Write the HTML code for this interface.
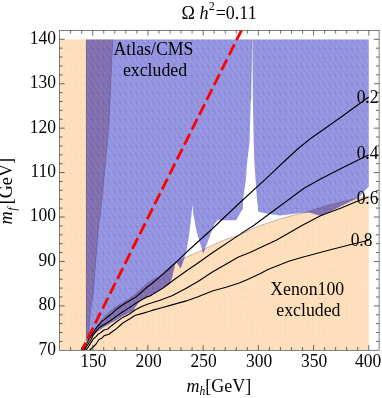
<!DOCTYPE html>
<html><head><meta charset="utf-8"><title>plot</title>
<style>
html,body{margin:0;padding:0;background:#fff;}
svg{display:block;font-family:"Liberation Serif",serif;}
</style></head><body>
<svg width="382" height="398" viewBox="0 0 382 398">
<rect width="382" height="398" fill="#fff"/>
<defs>
<pattern id="mo" patternUnits="userSpaceOnUse" x="58.768" y="350.300" width="5.5220" height="8.8860">
<path d="M0,0H5.5220M0,0V8.8860M0,0L5.5220,8.8860" stroke="#F0B070" stroke-opacity="0.22" stroke-width="0.6" fill="none"/>
</pattern>
<pattern id="mb" patternUnits="userSpaceOnUse" x="58.768" y="350.300" width="5.5220" height="8.8860">
<path d="M0,0H5.5220M0,0V8.8860M0,0L5.5220,8.8860" stroke="#3030C0" stroke-opacity="0.26" stroke-width="0.6" fill="none"/>
</pattern>
<clipPath id="cf"><rect x="59.4" y="30.4" width="319.70000000000005" height="319.90000000000003"/></clipPath>
<clipPath id="cb"><polygon points="86.3,39.5 251.7,39.5 250.8,100.0 249.5,142.0 247.0,163.0 245.8,180.0 243.4,197.0 242.7,209.0 236.0,220.2 217.6,220.2 214.3,224.3 203.2,253.6 196.7,231.9 193.5,215.1 192.4,205.0 190.8,221.0 188.9,236.0 187.7,243.5 186.2,252.3 184.3,258.5 180.7,268.5 176.8,262.8 175.2,264.5 173.8,270.0 172.0,278.0 169.0,284.5 162.5,289.0 156.3,292.8 150.0,296.2 141.7,299.8 137.9,303.5 134.8,307.9 133.5,310.4 129.1,313.0 122.8,316.1 116.6,319.9 110.3,323.5 104.0,327.0 100.6,329.6 97.0,331.8 94.3,334.1 91.0,337.5 88.0,341.0 86.3,341.0"/><polygon points="252.4,39.5 368.7,39.5 368.7,186.5 358.6,197.5 354.5,199.6 321.1,216.0 309.0,212.4 304.0,212.7 290.3,214.3 280.2,215.5 266.8,213.5 258.4,211.8 256.8,197.0 255.6,180.0 254.4,163.0 253.7,142.0 252.9,100.0"/></clipPath>
</defs>
<polygon points="59.8,39.5 112.8,39.5 109.0,123.0 106.0,158.0 100.2,216.0 99.0,222.6 97.2,242.7 95.2,267.8 93.4,293.0 91.0,306.7 89.4,323.5 88.6,333.5 87.5,337.0 90.0,334.5 93.0,331.5 95.5,328.5 98.3,324.8 101.0,321.0 104.0,317.0 110.3,311.2 116.6,306.3 122.8,302.5 129.1,298.9 134.2,295.0 140.0,290.0 147.5,283.0 153.8,279.2 158.8,276.8 165.1,271.0 175.5,262.5 186.5,257.0 196.0,253.0 206.8,247.8 223.5,240.3 240.3,234.5 256.8,226.9 273.5,221.0 290.3,216.0 304.0,213.0 308.5,211.6 318.0,208.2 328.3,205.2 340.0,202.2 352.8,199.2 368.7,196.5 368.7,350.3 59.8,350.3" fill="#FFE1BF"/>
<polygon points="59.8,39.5 112.8,39.5 109.0,123.0 106.0,158.0 100.2,216.0 99.0,222.6 97.2,242.7 95.2,267.8 93.4,293.0 91.0,306.7 89.4,323.5 88.6,333.5 87.5,337.0 90.0,334.5 93.0,331.5 95.5,328.5 98.3,324.8 101.0,321.0 104.0,317.0 110.3,311.2 116.6,306.3 122.8,302.5 129.1,298.9 134.2,295.0 140.0,290.0 147.5,283.0 153.8,279.2 158.8,276.8 165.1,271.0 175.5,262.5 186.5,257.0 196.0,253.0 206.8,247.8 223.5,240.3 240.3,234.5 256.8,226.9 273.5,221.0 290.3,216.0 304.0,213.0 308.5,211.6 318.0,208.2 328.3,205.2 340.0,202.2 352.8,199.2 368.7,196.5 368.7,350.3 59.8,350.3" fill="url(#mo)"/>
<polyline points="112.8,39.5 109.0,123.0 106.0,158.0 100.2,216.0 99.0,222.6 97.2,242.7 95.2,267.8 93.4,293.0 91.0,306.7 89.4,323.5 88.6,333.5 87.5,337.0 90.0,334.5 93.0,331.5 95.5,328.5 98.3,324.8 101.0,321.0 104.0,317.0 110.3,311.2 116.6,306.3 122.8,302.5 129.1,298.9 134.2,295.0 140.0,290.0 147.5,283.0 153.8,279.2 158.8,276.8 165.1,271.0 175.5,262.5 186.5,257.0 196.0,253.0 206.8,247.8 223.5,240.3 240.3,234.5 256.8,226.9 273.5,221.0 290.3,216.0 304.0,213.0 308.5,211.6 318.0,208.2 328.3,205.2 340.0,202.2 352.8,199.2 368.7,196.5" fill="none" stroke="#504030" stroke-opacity="0.6" stroke-width="0.55"/>
<g fill="#3C3CC6" fill-opacity="0.52">
<polygon points="86.3,39.5 251.7,39.5 250.8,100.0 249.5,142.0 247.0,163.0 245.8,180.0 243.4,197.0 242.7,209.0 236.0,220.2 217.6,220.2 214.3,224.3 203.2,253.6 196.7,231.9 193.5,215.1 192.4,205.0 190.8,221.0 188.9,236.0 187.7,243.5 186.2,252.3 184.3,258.5 180.7,268.5 176.8,262.8 175.2,264.5 173.8,270.0 172.0,278.0 169.0,284.5 162.5,289.0 156.3,292.8 150.0,296.2 141.7,299.8 137.9,303.5 134.8,307.9 133.5,310.4 129.1,313.0 122.8,316.1 116.6,319.9 110.3,323.5 104.0,327.0 100.6,329.6 97.0,331.8 94.3,334.1 91.0,337.5 88.0,341.0 86.3,341.0"/>
<polygon points="252.4,39.5 368.7,39.5 368.7,186.5 358.6,197.5 354.5,199.6 321.1,216.0 309.0,212.4 304.0,212.7 290.3,214.3 280.2,215.5 266.8,213.5 258.4,211.8 256.8,197.0 255.6,180.0 254.4,163.0 253.7,142.0 252.9,100.0"/>
</g>
<g fill="url(#mb)">
<polygon points="86.3,39.5 251.7,39.5 250.8,100.0 249.5,142.0 247.0,163.0 245.8,180.0 243.4,197.0 242.7,209.0 236.0,220.2 217.6,220.2 214.3,224.3 203.2,253.6 196.7,231.9 193.5,215.1 192.4,205.0 190.8,221.0 188.9,236.0 187.7,243.5 186.2,252.3 184.3,258.5 180.7,268.5 176.8,262.8 175.2,264.5 173.8,270.0 172.0,278.0 169.0,284.5 162.5,289.0 156.3,292.8 150.0,296.2 141.7,299.8 137.9,303.5 134.8,307.9 133.5,310.4 129.1,313.0 122.8,316.1 116.6,319.9 110.3,323.5 104.0,327.0 100.6,329.6 97.0,331.8 94.3,334.1 91.0,337.5 88.0,341.0 86.3,341.0"/>
<polygon points="252.4,39.5 368.7,39.5 368.7,186.5 358.6,197.5 354.5,199.6 321.1,216.0 309.0,212.4 304.0,212.7 290.3,214.3 280.2,215.5 266.8,213.5 258.4,211.8 256.8,197.0 255.6,180.0 254.4,163.0 253.7,142.0 252.9,100.0"/>
</g>
<g clip-path="url(#cb)"><polygon points="59.8,39.5 112.8,39.5 109.0,123.0 106.0,158.0 100.2,216.0 99.0,222.6 97.2,242.7 95.2,267.8 93.4,293.0 91.0,306.7 89.4,323.5 88.6,333.5 87.5,337.0 90.0,334.5 93.0,331.5 95.5,328.5 98.3,324.8 101.0,321.0 104.0,317.0 110.3,311.2 116.6,306.3 122.8,302.5 129.1,298.9 134.2,295.0 140.0,290.0 147.5,283.0 153.8,279.2 158.8,276.8 165.1,271.0 175.5,262.5 186.5,257.0 196.0,253.0 206.8,247.8 223.5,240.3 240.3,234.5 256.8,226.9 273.5,221.0 290.3,216.0 304.0,213.0 308.5,211.6 318.0,208.2 328.3,205.2 340.0,202.2 352.8,199.2 368.7,196.5 368.7,350.3 59.8,350.3" fill="#260960" fill-opacity="0.16"/></g>
<path d="M86.3,39.5V341M251.6,39.5L250.8,100" stroke="#403060" stroke-opacity="0.6" stroke-width="0.6" fill="none"/>
<g fill="none" stroke="#000" stroke-width="1.1" stroke-linejoin="round">
<polyline points="83.5,350.0 86.5,344.0 89.5,338.5 92.5,333.6 94.7,330.5 97.0,326.8 99.7,324.0 101.5,321.5 104.0,319.9 110.3,314.8 116.6,309.2 122.8,304.8 129.1,301.0 135.4,297.3 140.0,293.5 142.8,291.0 146.3,287.8 152.6,283.0 158.8,277.6 165.1,272.3 171.4,266.5 177.7,260.7 184.0,254.7 190.0,249.0 211.0,230.0 240.0,202.5 265.0,179.6 290.0,156.0 300.0,147.0 311.0,138.3 321.0,131.2 341.9,116.5 362.8,101.2 368.7,97.0"/>
<polyline points="84.5,350.0 87.5,345.0 90.5,340.5 93.4,334.8 96.1,331.4 98.8,328.0 101.5,326.0 104.0,324.8 110.3,320.8 116.6,316.1 122.8,311.7 129.1,307.9 135.4,303.5 141.7,299.8 146.7,297.0 150.0,296.0 155.4,292.6 162.5,288.4 168.0,284.2 175.0,279.0 187.7,270.0 198.0,263.0 212.4,252.8 240.0,234.4 254.0,225.2 304.0,188.3 321.0,178.7 342.0,168.0 362.8,157.8 368.7,155.0"/>
<polyline points="86.0,350.0 87.9,347.6 90.7,343.1 93.4,338.8 96.1,336.6 97.9,334.3 100.6,332.7 104.0,330.0 107.8,329.0 111.5,325.7 116.6,321.8 122.8,317.4 129.1,314.2 135.4,309.7 141.7,306.4 148.0,304.0 152.0,302.8 160.0,300.2 172.0,295.8 186.2,288.3 198.0,281.5 212.4,272.0 238.5,257.0 250.0,252.5 260.0,247.7 276.2,240.2 302.4,225.3 321.0,215.6 341.9,207.7 356.5,201.4 368.7,197.0"/>
<polyline points="89.5,350.0 91.6,348.5 96.1,344.0 98.8,339.8 102.4,337.7 104.2,335.6 109.0,334.3 112.8,331.2 116.6,328.7 122.8,323.0 129.1,319.2 135.4,315.3 141.7,313.6 148.0,311.8 152.0,310.4 160.0,308.2 172.0,304.9 186.2,300.9 198.0,296.8 212.4,291.0 226.0,287.3 238.5,283.2 247.0,279.8 260.0,273.8 267.9,269.6 276.2,266.3 288.8,261.2 302.4,257.3 328.5,250.2 350.0,244.8 368.7,240.2"/>
</g>
<line clip-path="url(#cf)" x1="241.85" y1="29.5" x2="81.8" y2="350.3" stroke="#f00" stroke-width="2.8" stroke-dasharray="12 4.66"/>
<rect x="59.4" y="30.4" width="319.70000000000005" height="319.90000000000003" fill="none" stroke="#4a4a4a" stroke-width="0.7"/>
<path d="M70.61,350.3v-3.2M70.61,30.4v3.2M81.66,350.3v-3.2M81.66,30.4v3.2M92.70,350.3v-5.2M92.70,30.4v5.2M103.74,350.3v-3.2M103.74,30.4v3.2M114.79,350.3v-3.2M114.79,30.4v3.2M125.83,350.3v-3.2M125.83,30.4v3.2M136.88,350.3v-3.2M136.88,30.4v3.2M147.92,350.3v-5.2M147.92,30.4v5.2M158.96,350.3v-3.2M158.96,30.4v3.2M170.01,350.3v-3.2M170.01,30.4v3.2M181.05,350.3v-3.2M181.05,30.4v3.2M192.10,350.3v-3.2M192.10,30.4v3.2M203.14,350.3v-5.2M203.14,30.4v5.2M214.18,350.3v-3.2M214.18,30.4v3.2M225.23,350.3v-3.2M225.23,30.4v3.2M236.27,350.3v-3.2M236.27,30.4v3.2M247.32,350.3v-3.2M247.32,30.4v3.2M258.36,350.3v-5.2M258.36,30.4v5.2M269.40,350.3v-3.2M269.40,30.4v3.2M280.45,350.3v-3.2M280.45,30.4v3.2M291.49,350.3v-3.2M291.49,30.4v3.2M302.54,350.3v-3.2M302.54,30.4v3.2M313.58,350.3v-5.2M313.58,30.4v5.2M324.62,350.3v-3.2M324.62,30.4v3.2M335.67,350.3v-3.2M335.67,30.4v3.2M346.71,350.3v-3.2M346.71,30.4v3.2M357.76,350.3v-3.2M357.76,30.4v3.2M368.80,350.3v-5.2M368.80,30.4v5.2M59.4,341.41h3.2M379.1,341.41h-3.2M59.4,332.53h3.2M379.1,332.53h-3.2M59.4,323.64h3.2M379.1,323.64h-3.2M59.4,314.76h3.2M379.1,314.76h-3.2M59.4,305.87h5.2M379.1,305.87h-5.2M59.4,296.98h3.2M379.1,296.98h-3.2M59.4,288.10h3.2M379.1,288.10h-3.2M59.4,279.21h3.2M379.1,279.21h-3.2M59.4,270.33h3.2M379.1,270.33h-3.2M59.4,261.44h5.2M379.1,261.44h-5.2M59.4,252.55h3.2M379.1,252.55h-3.2M59.4,243.67h3.2M379.1,243.67h-3.2M59.4,234.78h3.2M379.1,234.78h-3.2M59.4,225.90h3.2M379.1,225.90h-3.2M59.4,217.01h5.2M379.1,217.01h-5.2M59.4,208.12h3.2M379.1,208.12h-3.2M59.4,199.24h3.2M379.1,199.24h-3.2M59.4,190.35h3.2M379.1,190.35h-3.2M59.4,181.47h3.2M379.1,181.47h-3.2M59.4,172.58h5.2M379.1,172.58h-5.2M59.4,163.69h3.2M379.1,163.69h-3.2M59.4,154.81h3.2M379.1,154.81h-3.2M59.4,145.92h3.2M379.1,145.92h-3.2M59.4,137.04h3.2M379.1,137.04h-3.2M59.4,128.15h5.2M379.1,128.15h-5.2M59.4,119.26h3.2M379.1,119.26h-3.2M59.4,110.38h3.2M379.1,110.38h-3.2M59.4,101.49h3.2M379.1,101.49h-3.2M59.4,92.61h3.2M379.1,92.61h-3.2M59.4,83.72h5.2M379.1,83.72h-5.2M59.4,74.83h3.2M379.1,74.83h-3.2M59.4,65.95h3.2M379.1,65.95h-3.2M59.4,57.06h3.2M379.1,57.06h-3.2M59.4,48.18h3.2M379.1,48.18h-3.2M59.4,39.29h5.2M379.1,39.29h-5.2" stroke="#383838" stroke-width="0.75" fill="none"/>
<g opacity="0.999">
<g font-size="17.5" fill="#000">
<text transform="translate(93.3,366.9) scale(1,1.04)" text-anchor="middle">150</text><text transform="translate(148.5,366.9) scale(1,1.04)" text-anchor="middle">200</text><text transform="translate(203.7,366.9) scale(1,1.04)" text-anchor="middle">250</text><text transform="translate(259.0,366.9) scale(1,1.04)" text-anchor="middle">300</text><text transform="translate(314.2,366.9) scale(1,1.04)" text-anchor="middle">350</text><text transform="translate(368.1,366.9) scale(1,1.04)" text-anchor="middle">400</text>
<text transform="translate(56,354.6) scale(1,1.04)" text-anchor="end">70</text><text transform="translate(56,310.2) scale(1,1.04)" text-anchor="end">80</text><text transform="translate(56,265.7) scale(1,1.04)" text-anchor="end">90</text><text transform="translate(56,221.3) scale(1,1.04)" text-anchor="end">100</text><text transform="translate(56,176.9) scale(1,1.04)" text-anchor="end">110</text><text transform="translate(56,132.5) scale(1,1.04)" text-anchor="end">120</text><text transform="translate(56,88.0) scale(1,1.04)" text-anchor="end">130</text><text transform="translate(56,43.6) scale(1,1.04)" text-anchor="end">140</text>
<text transform="translate(378.5,103.1) scale(1,1.04)" text-anchor="end">0.2</text>
<text transform="translate(378.5,158.9) scale(1,1.04)" text-anchor="end">0.4</text>
<text transform="translate(378.5,203.5) scale(1,1.04)" text-anchor="end">0.6</text>
<text transform="translate(372.5,245.8) scale(1,1.04)" text-anchor="end">0.8</text>
</g>
<g font-size="17.8" fill="#000" text-anchor="middle">
<text x="153.5" y="54.6">Atlas/CMS</text>
<text x="155" y="76.4">excluded</text>
<text x="307.2" y="294.9">Xenon100</text>
<text x="308.4" y="315.8">excluded</text>
</g>
<text x="181.6" y="18.5" font-size="18">Ω <tspan font-style="italic">h</tspan><tspan font-size="12" dy="-8.6" dx="0.3">2</tspan><tspan dy="8.6" dx="0.9">=0.11</tspan></text>
<text x="186.6" y="391.6" font-size="18"><tspan font-style="italic">m</tspan><tspan font-style="italic" font-size="11.5" dy="3.5">h</tspan><tspan dy="-3.5">[GeV]</tspan></text>
<text transform="translate(12.4,224.6) rotate(-90)" font-size="18.2"><tspan font-style="italic">m</tspan><tspan font-style="italic" font-size="12" dy="4" dx="0.8">f</tspan><tspan dy="-4" dx="3.0">[GeV]</tspan></text>
</g>
</svg>
</body></html>
